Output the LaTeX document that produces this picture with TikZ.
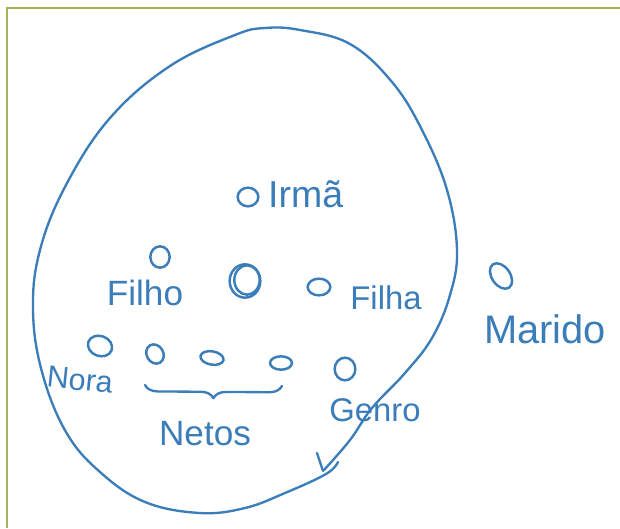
\documentclass[tikz,border=0pt]{standalone}
\usepackage{fontspec}
\setmainfont{Liberation Sans}
\definecolor{caneta}{HTML}{3A7DB9}
\definecolor{moldura}{HTML}{A3B55A}
\usetikzlibrary{shapes.geometric,decorations.pathreplacing,calc}
\tikzset{
  pessoa/.style={draw=caneta,ellipse,line width=2.1pt,inner sep=0pt,
    minimum width=0.6cm,minimum height=0.6cm},
  rotulo/.style={text=caneta,font=\fontsize{30}{30}\selectfont,inner sep=0pt},
  traco/.style={draw=caneta,line width=2pt,line cap=round,line join=round},
  borda/.style={draw=moldura,line width=2.4pt},
}

\begin{document}
\begin{tikzpicture}[x=0.03cm,y=-0.03cm]
    \useasboundingbox (0,0) rectangle (620,528);
    \draw[borda] (7,528) -- (7,8) -- (620,8);

    % the big loop
    \draw[traco] plot[smooth,tension=0.65] coordinates {(324,470) (350,440) (372,408) (405,373)
      (432,338) (450,295) (457,250) (447,190) (422,130) (392,82) (350,44) (300,30) (265,28)
      (235,35) (170,66) (110,118) (66,185) (40,250) (33,310) (42,372) (66,432) (100,472)
      (145,502) (200,513) (245,508) (285,493) (326,474) (338,462)};
    \draw[traco] (317,453) -- (323,471);

    \node[pessoa,minimum width=0.62cm,minimum height=0.56cm] (irma) at (248,197) {};
    \node[rotulo,font=\fontsize{32}{32}\selectfont,anchor=west] (tirma) at (268,194) {Irmã};

    \node[pessoa,minimum width=0.58cm,minimum height=0.64cm] (filho) at (160,257) {};
    \node[rotulo] (tfilho) at (145,293) {Filho};

    \node[pessoa,minimum width=0.92cm,minimum height=1cm] (ego) at (245,281) {};
    \node[pessoa,minimum width=0.76cm,minimum height=0.88cm] (egob) at (247,280) {};

    \node[pessoa,minimum width=0.68cm,minimum height=0.5cm] (filha) at (319,287) {};
    \node[rotulo,font=\fontsize{28}{28}\selectfont] (tfilha) at (386,298) {Filha};

    \node[pessoa,minimum width=0.55cm,minimum height=0.85cm,rotate=35] (marido) at (501,276) {};
    \node[rotulo,font=\fontsize{34}{34}\selectfont] (tmarido) at (545,329) {Marido};

    \node[pessoa,minimum width=0.74cm,minimum height=0.6cm,rotate=-20] (nora) at (100,346) {};
    \node[rotulo,font=\fontsize{26}{26}\selectfont,rotate=-6] (tnora) at (80,380) {Nora};

    \node[pessoa,minimum width=0.5cm,minimum height=0.6cm,rotate=30] (neto1) at (155,354) {};
    \node[pessoa,minimum width=0.7cm,minimum height=0.4cm,rotate=-10] (neto2) at (212,358) {};
    \node[pessoa,minimum width=0.66cm,minimum height=0.4cm] (neto3) at (281,363) {};
    \coordinate (chave1) at (145,385);
    \coordinate (chave2) at (282,386);
    \draw[traco,decorate,decoration={brace,amplitude=0.38cm}] (chave2) -- (chave1);
    \node[rotulo] (tnetos) at (205,434) {Netos};

    \node[pessoa,minimum width=0.62cm,minimum height=0.68cm] (genro) at (345,369) {};
    \node[rotulo,font=\fontsize{28}{28}\selectfont] (tgenro) at (375,410) {Genro};
\end{tikzpicture}
\end{document}
